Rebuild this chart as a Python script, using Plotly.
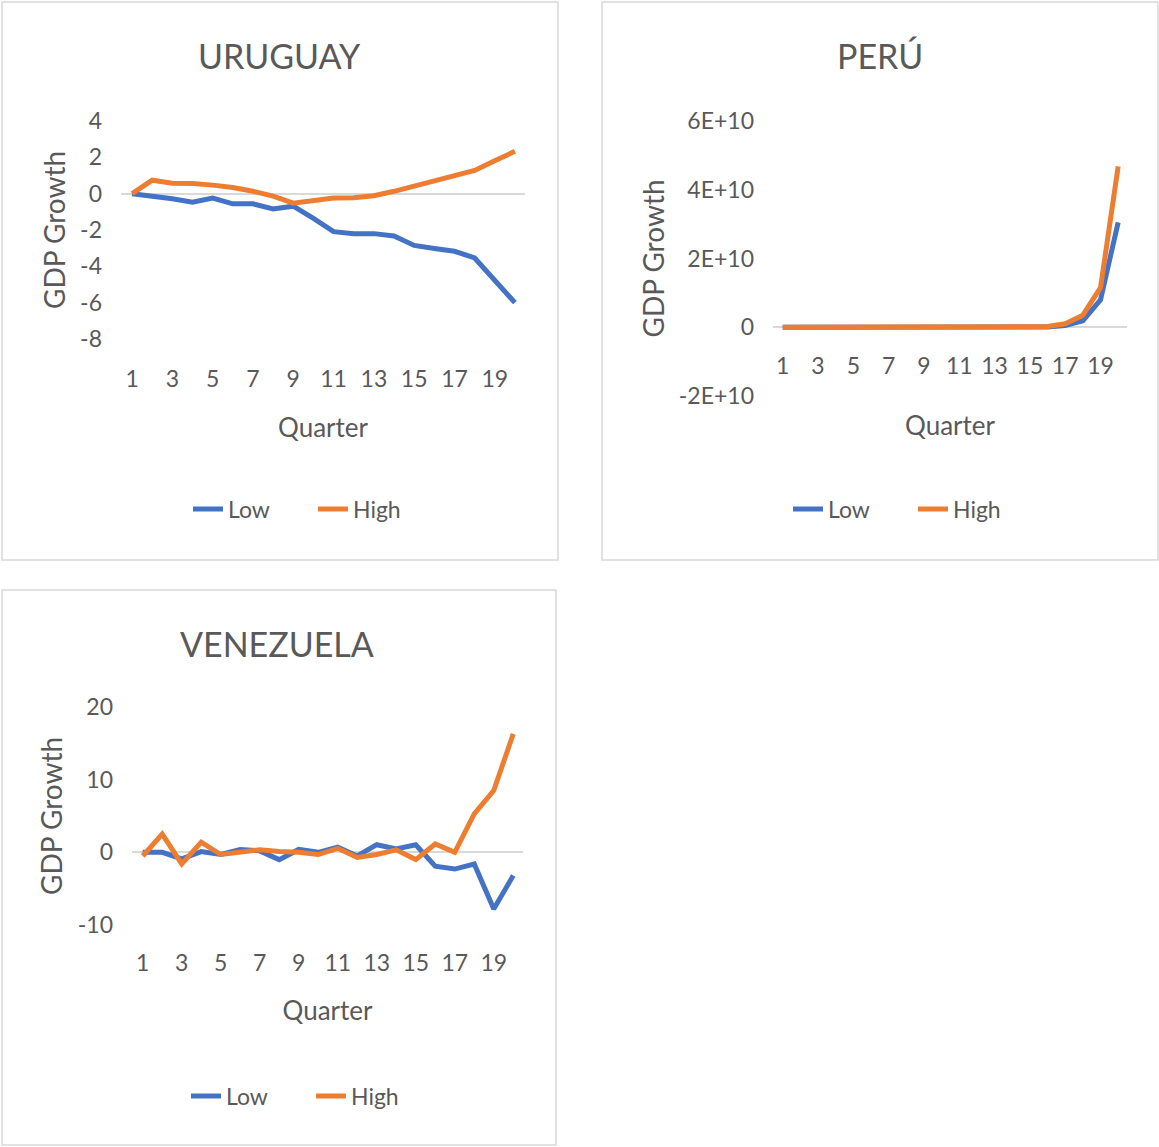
import plotly.graph_objects as go

W, H = 1159, 1147

quarters = list(range(1, 21))
x_tick_vals = list(range(1, 20, 2))
x_tick_text = [str(v) for v in x_tick_vals]

uru_low = [0, -0.13, -0.28, -0.47, -0.24, -0.56, -0.56, -0.84, -0.69, -1.36,
           -2.09, -2.2, -2.2, -2.33, -2.85, -3.02, -3.17, -3.54, -4.75, -6.0]
uru_high = [0, 0.74, 0.58, 0.56, 0.47, 0.34, 0.13, -0.13, -0.52, -0.37,
            -0.24, -0.22, -0.11, 0.13, 0.43, 0.73, 0.99, 1.28, 1.81, 2.33]
uru_tick_vals = [-8, -6, -4, -2, 0, 2, 4]
uru_tick_text = ["-8", "-6", "-4", "-2", "0", "2", "4"]

peru_low = [0, 0, 0, 0, 0, 0, 0, 0, 0, 0,
            0, 0, 0, 0, 0, 1.0e8, 5.0e8, 1.9e9, 8.0e9, 3.05e10]
peru_high = [0, 0, 0, 0, 0, 0, 0, 0, 0, 0,
             0, 0, 0, 0, 0, 2.0e8, 1.0e9, 3.5e9, 1.15e10, 4.68e10]
peru_tick_vals = [-2e10, 0, 2e10, 4e10, 6e10]
peru_tick_text = ["-2E+10", "0", "2E+10", "4E+10", "6E+10"]

ven_low = [0, 0, -0.9, 0.1, -0.3, 0.4, 0.2, -1.0, 0.4, 0,
           0.7, -0.5, 1.05, 0.45, 1.05, -1.9, -2.3, -1.6, -7.8, -3.2]
ven_high = [-0.5, 2.5, -1.6, 1.4, -0.3, 0, 0.35, 0.1, 0, -0.3,
            0.55, -0.7, -0.3, 0.35, -1.0, 1.15, 0, 5.3, 8.5, 16.3]
ven_tick_vals = [-10, 0, 10, 20]
ven_tick_text = ["-10", "0", "10", "20"]

titles = ["URUGUAY", "PERÚ", "VENEZUELA"]
series_names = ["Low", "High"]

BLUE = "#4472C4"
ORANGE = "#ED7D31"
GREY = "#595959"
FONT = "Lato, Open Sans, sans-serif"


def px(x):
    return x / W


def py(y):
    return 1 - y / H


fig = go.Figure()

panels = [
    dict(low=uru_low, high=uru_high, xa="x", ya="y", leg="legend"),
    dict(low=peru_low, high=peru_high, xa="x2", ya="y2", leg="legend2"),
    dict(low=ven_low, high=ven_high, xa="x3", ya="y3", leg="legend3"),
]
for p in panels:
    for name, vals, col in [(series_names[0], p["low"], BLUE),
                            (series_names[1], p["high"], ORANGE)]:
        fig.add_trace(go.Scatter(
            x=quarters, y=vals, mode="lines", name=name,
            line=dict(color=col, width=5),
            xaxis=p["xa"], yaxis=p["ya"], legend=p["leg"],
        ))

tickfont = dict(family=FONT, size=23, color=GREY)
xtitlefont = dict(family=FONT, size=26, color=GREY)
ytitlefont = dict(family=FONT, size=28, color=GREY)
legfont = dict(family=FONT, size=23, color=GREY)

common_x = dict(
    tickvals=x_tick_vals, ticktext=x_tick_text, range=[0.45, 20.5],
    showgrid=False, zeroline=False, showline=False, ticks="",
    tickfont=tickfont, tickangle=0, fixedrange=True, automargin=False,
)
common_y = dict(
    showgrid=False, zeroline=True, zerolinecolor="#D9D9D9", zerolinewidth=1.5,
    showline=False, ticks="", tickfont=tickfont, fixedrange=True,
    title=dict(text="GDP Growth", font=ytitlefont, standoff=6),
    ticklabelstandoff=18, automargin=False,
)

leg_common = dict(orientation="h", xanchor="center", yanchor="middle",
                  font=legfont, bgcolor="rgba(0,0,0,0)", entrywidth=80)

fig.update_layout(
    width=W, height=H,
    margin=dict(l=0, r=0, t=0, b=0, pad=0, autoexpand=False),
    paper_bgcolor="white", plot_bgcolor="white",
    font=dict(family=FONT, color=GREY),
    xaxis=dict(domain=[px(121), px(525)], anchor="y",
               title=dict(text="Quarter", font=xtitlefont, standoff=27),
               ticklabelstandoff=24, **common_x),
    yaxis=dict(domain=[py(339), py(121)], anchor="x", range=[-8, 4],
               tickvals=uru_tick_vals, ticktext=uru_tick_text, **common_y),
    xaxis2=dict(domain=[px(773), px(1127)], anchor="free", position=py(328),
                title=dict(text="Quarter", font=xtitlefont, standoff=38),
                ticklabelstandoff=22, **common_x),
    yaxis2=dict(domain=[py(396), py(121)], anchor="x2", range=[-2e10, 6e10],
                tickvals=peru_tick_vals, ticktext=peru_tick_text, **common_y),
    xaxis3=dict(domain=[px(132), px(523)], anchor="y3",
                title=dict(text="Quarter", font=xtitlefont, standoff=26),
                ticklabelstandoff=22, **common_x),
    yaxis3=dict(domain=[py(925), py(707)], anchor="x3", range=[-10, 20],
                tickvals=ven_tick_vals, ticktext=ven_tick_text, **common_y),
    legend=dict(x=px(313), y=py(509), **leg_common),
    legend2=dict(x=px(913), y=py(509), **leg_common),
    legend3=dict(x=px(311), y=py(1096), **leg_common),
    showlegend=True,
)

boxes = [(2, 2, 558, 560), (602, 2, 1158, 560), (2, 590, 556, 1145)]
for (x0, y0, x1, y1) in boxes:
    fig.add_shape(type="rect", xref="paper", yref="paper",
                  x0=px(x0), x1=px(x1), y0=py(y1), y1=py(y0),
                  line=dict(color="#D9D9D9", width=1.5), fillcolor="rgba(0,0,0,0)",
                  layer="below")

title_pos = [(279, 56), (880, 56), (277, 643)]
for t, (cx, cy) in zip(titles, title_pos):
    fig.add_annotation(text=t, xref="paper", yref="paper", x=px(cx), y=py(cy),
                       xanchor="center", yanchor="middle", showarrow=False,
                       font=dict(family=FONT, size=34, color=GREY))

fig.write_html(
    "out.html",
    config={"displayModeBar": False},
    post_script=(
        "document.body.style.margin='0';"
        "document.body.style.overflow='hidden';"
        "var d=document.getElementById('{plot_id}');"
        "d.style.position='fixed';d.style.top='0';d.style.left='0';"
    ),
)
